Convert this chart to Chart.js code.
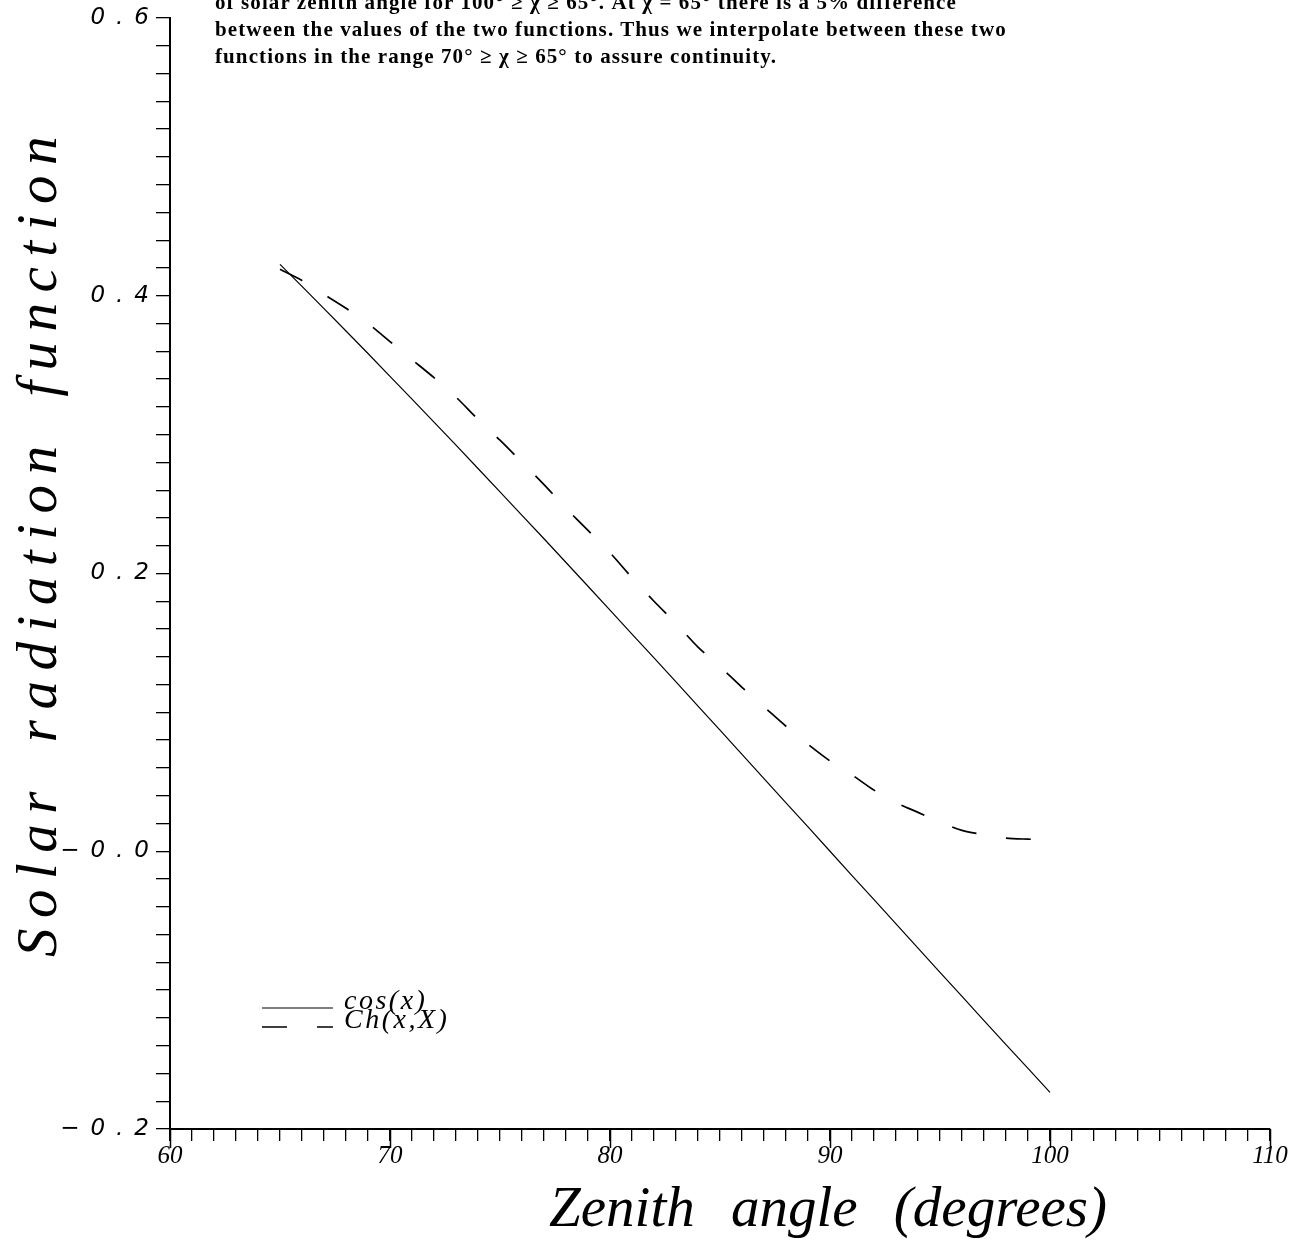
<!DOCTYPE html>
<html><head><meta charset="utf-8">
<script src="https://cdn.jsdelivr.net/npm/chart.js@4.4.1/dist/chart.umd.min.js"></script>
<style>
html,body{margin:0;padding:0;background:#fff;}
#wrap{position:relative;width:1306px;height:1248px;overflow:hidden;background:#fff;}
#c{position:absolute;left:0;top:0;}
#note{position:absolute;left:215px;top:-11px;font:bold 21px "Liberation Serif",serif;letter-spacing:1.1px;line-height:27px;color:#000;white-space:pre;}
</style></head><body>
<div id="wrap">
<canvas id="c" width="1306" height="1248"></canvas>
<div id="note">of solar zenith angle for 100° ≥ χ ≥ 65°. At χ = 65° there is a 5% difference
between the values of the two functions. Thus we interpolate between these two
functions in the range 70° ≥ χ ≥ 65° to assure continuity.</div>
</div>
<script>
// ---- data ----
const cosAngles = [65,66,67,68,69,70,71,72,73,74,75,76,77,78,79,80,81,82,83,84,85,86,87,88,89,90,91,92,93,94,95,96,97,98,99,100];
const cosValues = [0.4226,0.4067,0.3907,0.3746,0.3584,0.3420,0.3256,0.3090,0.2924,0.2756,0.2588,0.2419,0.2250,0.2079,0.1908,0.1736,0.1564,0.1392,0.1219,0.1045,0.0872,0.0698,0.0523,0.0349,0.0175,0.0000,-0.0175,-0.0349,-0.0523,-0.0698,-0.0872,-0.1045,-0.1219,-0.1392,-0.1564,-0.1736];
const chAngles = [65,66,67,68,69,70,71,72,73,74,75,76,77,78,79,80,81,82,83,84,85,86,87,88,89,90,91,92,93,94,95,96,97,98,99,99.4];
const chValues = [0.419,0.411,0.401,0.391,0.380,0.367,0.354,0.341,0.327,0.311,0.296,0.280,0.264,0.247,0.231,0.215,0.197,0.180,0.164,0.147,0.133,0.118,0.104,0.090,0.077,0.065,0.055,0.044,0.035,0.028,0.021,0.015,0.012,0.0095,0.0087,0.0086];
const seriesLabels = ['cos(x)', 'Ch(x,X)'];
const xMajorTicks = [60,70,80,90,100,110];
const xMajorLabels = ['60','70','80','90','100','110'];
const yMajorTicks = [-0.2,0,0.2,0.4,0.6];
const yMajorLabels = ['\u22120.2','\u22120.0','0.2','0.4','0.6'];
const xTitle = 'Zenith angle (degrees)';
const yTitle = 'Solar radiation function';

function majorIndex(list, v){ for (let i=0;i<list.length;i++){ if (Math.abs(list[i]-v)<1e-6) return i; } return -1; }

const extras = {
  id: 'extras',
  afterDatasetsDraw(chart){ chart.ctx.letterSpacing = '11px'; },
  afterDraw(chart){
    const ctx = chart.ctx, a = chart.chartArea, xs = chart.scales.x;
    ctx.save();
    ctx.letterSpacing = '0px';
    // longer major ticks on the x axis
    ctx.strokeStyle = '#000'; ctx.lineWidth = 1.5;
    xMajorTicks.forEach(v => {
      const px = Math.round(xs.getPixelForValue(v)) + 0.5;
      ctx.beginPath(); ctx.moveTo(px, a.bottom); ctx.lineTo(px, a.bottom + 19); ctx.stroke();
    });
    // axis titles
    ctx.fillStyle = '#000';
    ctx.font = 'italic 57px "Liberation Serif", serif';
    ctx.textAlign = 'center'; ctx.textBaseline = 'alphabetic';
    ctx.wordSpacing = '22px';
    ctx.fillText(xTitle, (a.left + a.right) / 2 + 108, a.bottom + 97);
    ctx.save();
    ctx.translate(56, (a.top + a.bottom) / 2 - 32);
    ctx.rotate(-Math.PI / 2);
    ctx.letterSpacing = '10.5px';
    ctx.wordSpacing = '14px';
    ctx.fillText(yTitle, 0, 0);
    ctx.restore();
    ctx.wordSpacing = '0px';
    // legend
    const ds = chart.data.datasets;
    const lx = a.left + 92, ly = [a.bottom - 121, a.bottom - 102];
    ctx.font = 'italic 28px "Liberation Serif", serif';
    ctx.letterSpacing = '2.5px';
    ctx.textAlign = 'left'; ctx.textBaseline = 'alphabetic';
    ds.forEach((d, i) => {
      ctx.save();
      ctx.strokeStyle = d.borderColor; ctx.lineWidth = d.borderWidth;
      ctx.setLineDash(d.borderDash || []);
      ctx.beginPath(); ctx.moveTo(lx, ly[i]); ctx.lineTo(lx + 71, ly[i]); ctx.stroke();
      ctx.restore();
      ctx.fillText(d.label, lx + 82, ly[i] + 1);
    });
    ctx.restore();
  }
};

new Chart(document.getElementById('c'), {
  type: 'line',
  data: {
    datasets: [
      { label: seriesLabels[0], data: cosAngles.map((x, i) => ({x, y: cosValues[i]})),
        borderColor: '#000', borderWidth: 1.2, pointRadius: 0, tension: 0, fill: false },
      { label: seriesLabels[1], data: chAngles.map((x, i) => ({x, y: chValues[i]})),
        borderColor: '#000', borderWidth: 1.7, borderDash: [25, 30], pointRadius: 0, tension: 0.3, fill: false }
    ]
  },
  options: {
    responsive: false, animation: false, devicePixelRatio: 1,
    layout: { padding: { top: 18, right: 36, left: 0, bottom: 0 } },
    plugins: { legend: { display: false }, tooltip: { enabled: false } },
    scales: {
      x: {
        type: 'linear', min: 60, max: 110,
        afterFit(s){ s.height = 119; },
        ticks: { stepSize: 1, autoSkip: false, maxRotation: 0, padding: 0, color: '#000',
          font: { family: 'Liberation Serif', style: 'italic', size: 25 },
          callback(v){ const i = majorIndex(xMajorTicks, v); return i >= 0 ? xMajorLabels[i] : ''; } },
        grid: { drawOnChartArea: false, drawTicks: true, tickLength: 12, color: '#000', lineWidth: 1.3 },
        border: { display: true, color: '#000', width: 2 }
      },
      y: {
        type: 'linear', min: -0.2, max: 0.6,
        afterFit(s){ s.width = 170; },
        ticks: { stepSize: 0.02, autoSkip: false, padding: -4, color: '#000', z: 1,
          font: { family: 'DejaVu Sans', style: 'italic', size: 23 },
          callback(v){ const i = majorIndex(yMajorTicks, v); return i >= 0 ? yMajorLabels[i] : ''; } },
        grid: { drawOnChartArea: false, drawTicks: true, tickLength: 14, color: '#000', lineWidth: 1.3 },
        border: { display: true, color: '#000', width: 2 }
      }
    }
  },
  plugins: [extras]
});
</script>
</body></html>
